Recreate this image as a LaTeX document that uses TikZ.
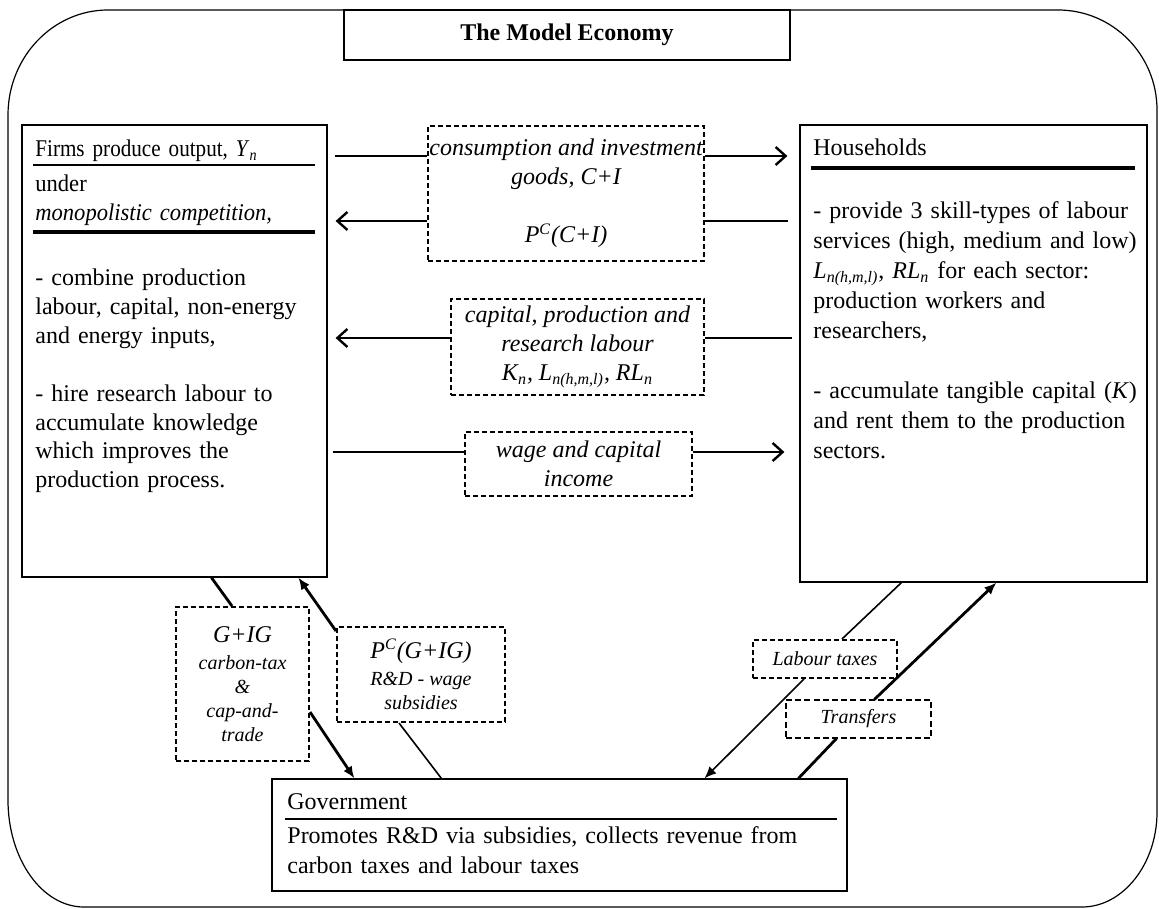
\documentclass[tikz,border=0pt]{standalone}
\usepackage{fontspec}
\setmainfont{Liberation Serif}
\usetikzlibrary{arrows.meta}

\tikzset{
  sector/.style={draw, line width=0.6pt, inner sep=0pt},
  flowbox/.style={draw, line width=1pt, dash pattern=on 2.6pt off 1.4pt, inner sep=0pt,
    align=center, font=\fontsize{12}{14.5}\selectfont\itshape},
  thinbox/.style={flowbox, line width=0.6pt, dash pattern=on 3pt off 1.6pt},
  txt/.style={anchor=base west, inner sep=0pt, align=left, font=\fontsize{12}{14.4}\selectfont},
  flowline/.style={line width=0.8pt},
  heavyline/.style={line width=1.4pt},
  barbend/.style={-{Straight Barb[length=5pt,width=9pt,line width=1.2pt]}},
  filledend/.style={-{Latex[length=6pt,width=5pt]}}
}

\begin{document}
\begin{tikzpicture}[x=0.5pt,y=-0.5pt]
    \useasboundingbox (0,0) rectangle (1159,908);

    % frame
    \draw[line width=0.6pt] (108,10) -- (1058,10)
      .. controls (1113,10) and (1157,55) .. (1157,110) -- (1157,812)
      .. controls (1157,864) and (1123,907) .. (1082,907) -- (84,907)
      .. controls (42,907) and (8,859) .. (8,800) -- (8,115)
      .. controls (8,57) and (53,10) .. (108,10) -- cycle;
    \node[sector, minimum width=223pt, minimum height=25pt, font=\fontsize{12}{14}\selectfont\bfseries]
      (title) at (567,35) {The Model Economy};

    % agents
    \node[sector, minimum width=152.5pt, minimum height=226pt] (firms) at (174.5,351) {};
    \node[sector, minimum width=173.5pt, minimum height=228.5pt] (households) at (973.5,353.5) {};
    \node[sector, minimum width=287.5pt, minimum height=56pt] (gov) at (559.5,835) {};

    % firms text
    \node[txt, text width=148pt] (firmshead) at (35,157)
      {\addfontfeatures{FakeStretch=0.88}Firms produce output, \textit{Y}\textsubscript{\textit{n}}};
    \node[txt, text width=148pt] (firmsform) at (35,192)
      {\addfontfeatures{FakeStretch=0.94}under\\ \textit{monopolistic competition,}};
    \node[txt, text width=148pt] (firmsbody) at (35,286) {- combine production\\ labour, capital, non-energy\\
      and energy inputs,\\[14.4pt] - hire research labour to\\ accumulate knowledge\\ which improves the\\ production process.};
    \path[draw,line width=0.9pt] (33,165) -- (315,165);
    \path[draw,line width=1.6pt] (33,232) -- (315,232);

    % households text
    \node[txt, text width=168pt] (hhhead) at (813,156) {Households};
    \node[txt, text width=168pt, font=\fontsize{12}{15}\selectfont] (hhbody) at (813,219)
      {- provide 3 skill-types of labour\\ services (high, medium and low)\\
      \textit{L}\textsubscript{\textit{n(h,m,l)}}, \textit{RL}\textsubscript{\textit{n}} for each sector:\\
      production workers and\\ researchers,\\[15pt] - accumulate tangible capital (\textit{K})\\
      and rent them to the production\\ sectors.};
    \path[draw,line width=1.6pt] (811,168) -- (1135,168);

    % government text
    \node[txt, text width=280pt] (govhead) at (287,809) {Government};
    \node[txt, text width=280pt, font=\fontsize{12}{15}\selectfont] (govbody) at (287,843)
      {Promotes R\&D via subsidies, collects revenue from\\ carbon taxes and labour taxes};
    \path[draw,line width=0.8pt] (285,819) -- (837,819);

    % flows between firms and households
    \node[flowbox, minimum width=138pt, minimum height=67.5pt] (cons) at (566,193.5)
      {consumption and investment\\ goods, \textit{C}+\textit{I}\\[14.5pt] \textit{P}\textsuperscript{\textit{C}}(\textit{C}+\textit{I})};
    \node[flowbox, minimum width=126.5pt, minimum height=48pt] (cap) at (577.5,347)
      {capital, production and\\ research labour\\ \textit{K}\textsubscript{\textit{n}}, \textit{L}\textsubscript{\textit{n(h,m,l)}}, \textit{RL}\textsubscript{\textit{n}}};
    \node[flowbox, minimum width=113.5pt, minimum height=32pt] (wage) at (578.5,464)
      {wage and capital\\ income};

    \coordinate (rowA) at (0,156);
    \coordinate (rowB) at (0,221);
    \coordinate (rowC) at (0,338);
    \coordinate (rowD) at (0,452);
    \draw[flowline, shorten <=3.5pt] (firms.east |- rowA) -- (cons.west |- rowA);
    \draw[flowline, barbend, shorten >=6pt] (cons.east |- rowA) -- (households.west |- rowA);
    \draw[flowline, shorten <=5.5pt] (households.west |- rowB) -- (cons.east |- rowB);
    \draw[flowline, barbend, shorten >=4pt] (cons.west |- rowB) -- (firms.east |- rowB);
    \draw[heavyline, shorten <=3.5pt] (households.west |- rowC) -- (cap.east |- rowC);
    \draw[flowline, barbend, shorten >=4pt] (cap.west |- rowC) -- (firms.east |- rowC);
    \draw[flowline, shorten <=2.5pt] (firms.east |- rowD) -- (wage.west |- rowD);
    \draw[flowline, barbend, shorten >=7.5pt] (wage.east |- rowD) -- (households.west |- rowD);

    % flows with the government
    \node[flowbox, minimum width=66.5pt, minimum height=77pt, font=\fontsize{10}{12}\selectfont\itshape] (gig) at (242.5,684)
      {{\fontsize{12}{14}\selectfont G+IG}\\[1.5pt] carbon-tax\\ \&\\ cap-and-\\ trade};
    \node[flowbox, minimum width=84pt, minimum height=47.5pt, font=\fontsize{10}{12}\selectfont\itshape] (pc) at (421,674.5)
      {{\fontsize{12}{14}\selectfont P\textsuperscript{C}(G+IG)}\\[1.5pt] R\&D - wage\\ subsidies};
    \node[flowbox, minimum width=72pt, minimum height=19pt, font=\fontsize{10}{12}\selectfont\itshape] (lab) at (825,659) {Labour taxes};
    \node[thinbox, minimum width=72.5pt, minimum height=19pt, font=\fontsize{10}{12}\selectfont\itshape] (tr) at (858.5,719) {Transfers};

    \draw[heavyline] ([xshift=95pt]firms.south west) -- ([xshift=28.5pt]gig.north west);
    \draw[heavyline, filledend] ([yshift=-14pt]gig.east) -- ([xshift=41.5pt]gov.north west);
    \draw[heavyline, filledend] ([yshift=-2.5pt]pc.north west) -- ([xshift=138.5pt]firms.south west);
    \draw[flowline] ([xshift=31.5pt]pc.south west) -- ([xshift=85pt]gov.north west);
    \draw[flowline] ([xshift=51pt]households.south west) -- ([xshift=45pt]lab.north west);
    \draw[flowline, filledend] ([xshift=26pt]lab.south west) -- ([xshift=216.5pt]gov.north west);
    \draw[heavyline] ([xshift=263.5pt]gov.north west) -- ([xshift=25.5pt]tr.south west);
    \draw[heavyline, filledend] ([xshift=44.5pt]tr.north west) -- ([xshift=98.5pt]households.south west);
\end{tikzpicture}
\end{document}
